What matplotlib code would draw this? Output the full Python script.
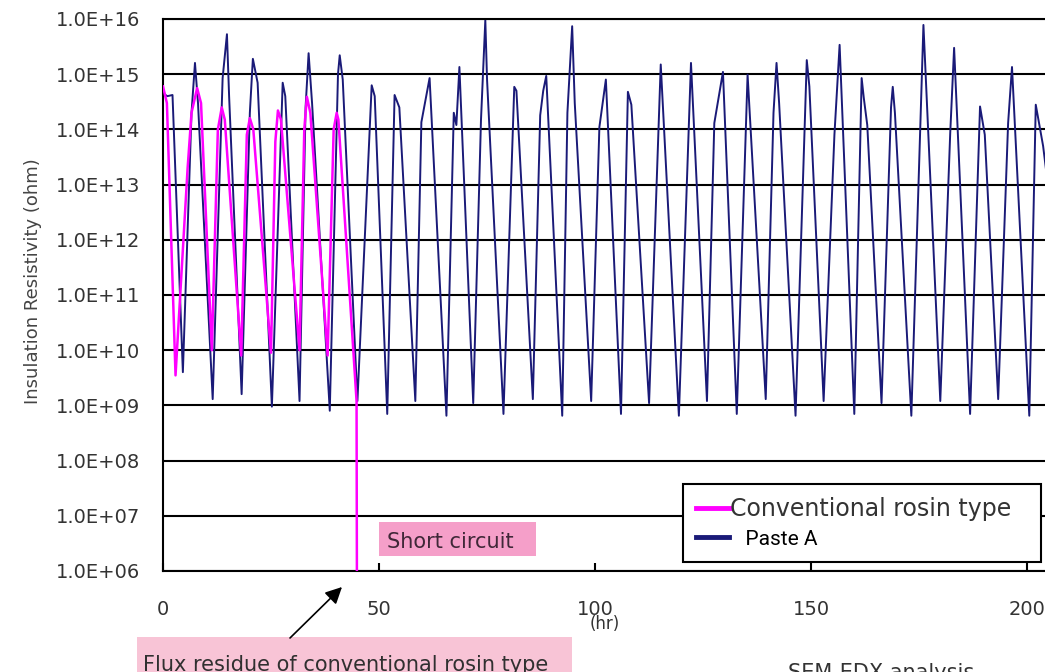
import matplotlib
matplotlib.use("Agg")
import matplotlib.pyplot as plt
from matplotlib.patches import Rectangle, FancyArrowPatch
from matplotlib.ticker import NullLocator

W, H = 1045, 672

# conventional rosin type flux: cycles until the short circuit at ~45 hr
rosin_hr = [0.0, 0.9, 2.9, 5.7, 6.6, 7.9, 8.8, 11.3, 12.7, 13.6, 14.3,
            18.1, 19.4, 20.1, 20.9, 25.0, 26.0, 26.6, 27.3, 31.6, 32.7,
            33.3, 34.1, 38.1, 39.5, 40.2, 40.6, 44.8, 44.9]
rosin_ohm = [6e14, 3e14, 3.5e9, 2e13, 2e14, 5.6e14, 3e14, 1e10, 1e14, 2.5e14, 1.5e14,
             8e9, 8e13, 1.6e14, 1e14, 9e9, 6e13, 2.2e14, 1.5e14, 1e10, 1e14,
             3.9e14, 2e14, 8e9, 1e14, 2e14, 1.5e14, 1.2e9, 1e5]

# Paste A: keeps cycling over the whole test
paste_hr = [0.0, 1.0, 2.2, 4.6,
            6.6, 7.4, 8.1, 11.5,
            13.8, 14.8, 15.3, 18.2,
            20.1, 20.8, 21.9, 25.2,
            27.7, 28.3, 31.6,
            33.0, 33.7, 34.5, 38.6,
            40.5, 40.9, 41.6, 45.0,
            48.3, 49.0, 51.9,
            53.6, 54.7, 58.4,
            59.8, 61.7, 65.6,
            67.3, 67.9, 68.6, 71.8,
            73.6, 74.6, 75.0, 78.8,
            81.3, 81.8, 85.6,
            87.3, 88.0, 88.7, 92.4,
            93.6, 94.7, 95.3, 99.1,
            101.0, 102.5, 106.0,
            107.6, 108.4, 112.5,
            115.2, 119.4,
            122.2, 125.9,
            127.6, 129.6, 132.8,
            135.3, 139.5,
            141.3, 142.0, 142.6, 146.4,
            149.0, 149.6, 152.9,
            155.4, 156.6, 160.0,
            161.7, 162.2, 163.0, 166.3,
            168.5, 168.9, 169.4, 173.2,
            175.3, 176.0, 179.9,
            182.2, 183.1, 186.8,
            189.1, 190.2, 193.3,
            195.6, 196.5, 200.5,
            202.0, 203.7, 204.8]
paste_ohm = [4.5e14, 4e14, 4.2e14, 4e9,
             2e14, 1.6e15, 3e14, 1.3e9,
             8.5e14, 5.3e15, 4e14, 1.6e9,
             2e14, 1.9e15, 7e14, 9.5e8,
             7e14, 4e14, 1.2e9,
             2.5e14, 2.4e15, 3e14, 8e8,
             1e15, 2.2e15, 8e14, 1.2e9,
             6.3e14, 4e14, 7e8,
             4.2e14, 2.5e14, 1.2e9,
             1.35e14, 8.5e14, 6.5e8,
             2e14, 1.2e14, 1.35e15, 1.1e9,
             1.5e14, 9.5e15, 8e14, 7e8,
             5.9e14, 5e14, 1.3e9,
             1.8e14, 5e14, 9.3e14, 6.5e8,
             2e14, 7.4e15, 3e14, 1.2e9,
             1.1e14, 8e14, 7e8,
             4.8e14, 2.8e14, 1.1e9,
             1.5e15, 6.5e8,
             1.6e15, 1.2e9,
             1.3e14, 1.1e15, 7e8,
             9.8e14, 1.3e9,
             2e14, 1.6e15, 3e14, 6.5e8,
             1.8e15, 6e14, 1.2e9,
             8e13, 3.4e15, 7e8,
             8.5e14, 3.7e14, 1.2e14, 1.1e9,
             2.5e14, 5.9e14, 2e14, 6.5e8,
             1.3e14, 7.8e15, 1.2e9,
             8.5e13, 3e15, 7e8,
             2.6e14, 8e13, 1.3e9,
             1.3e14, 1.35e15, 6.5e8,
             2.8e14, 5e13, 1e13]

decades = [1e6, 1e7, 1e8, 1e9, 1e10, 1e11, 1e12, 1e13, 1e14, 1e15, 1e16]
decade_labels = ["1.0E+06", "1.0E+07", "1.0E+08", "1.0E+09", "1.0E+10", "1.0E+11",
                 "1.0E+12", "1.0E+13", "1.0E+14", "1.0E+15", "1.0E+16"]
hour_ticks = [0, 50, 100, 150, 200]

plt.rcParams["font.family"] = ["DejaVu Sans"]


def fig_xy(px, py):
    """Image pixel position (top-left origin) -> figure fraction."""
    return px / W, 1 - py / H


fig = plt.figure(figsize=(W / 100, H / 100), dpi=100)
ax = fig.add_axes([163 / W, 1 - 571 / H, 884 / W, 552 / H])
ax.set_yscale("log")

paste_line, = ax.plot(paste_hr, paste_ohm, color="#1a1a78", lw=1.4, zorder=2)
rosin_line, = ax.plot(rosin_hr, rosin_ohm, color="#ff00ff", lw=1.8, zorder=3)

ax.set_xlim(0, 204.6)
ax.set_ylim(1e6, 1e16)
ax.set_yticks(decades)
ax.set_yticklabels(decade_labels)
ax.yaxis.set_minor_locator(NullLocator())
ax.set_xticks(hour_ticks)
ax.tick_params(axis="y", length=0, pad=16.5, labelsize=14, labelcolor="#333333")
ax.tick_params(axis="x", direction="in", length=6, width=1.5, pad=21,
               labelsize=14, labelcolor="#333333")
ax.grid(axis="y", color="black", lw=1.5)
ax.set_axisbelow(True)
for sp in ax.spines.values():
    sp.set_linewidth(1.5)

ax.set_ylabel("Insulation Resistivity (ohm)", fontsize=13, color="#444444")
ax.yaxis.set_label_coords((42 - 163) / 884, 0.525)
ax.set_xlabel("(hr)", fontsize=12, color="#333333", va="top")
ax.xaxis.set_label_coords(0.5, (571 - 615) / 552)

leg = ax.legend([rosin_line, paste_line], ["Conventional rosin type", "   Paste A"],
                loc="lower left", bbox_to_anchor=(0.588, 0.0163, 0.405, 0.163),
                mode="expand", borderaxespad=0, fancybox=False, framealpha=1,
                edgecolor="black", fontsize=17, handlelength=1.4, handletextpad=0.05,
                labelspacing=0.3, borderpad=0.55)
leg.get_frame().set_linewidth(1.5)
leg.set_zorder(5)
for ln in leg.get_lines():
    ln.set_linewidth(3.5)
leg.get_texts()[0].set_color("#333333")
leg.get_texts()[1].set_fontfamily("Roboto")
leg.get_texts()[1].set_fontsize(15)
leg.get_texts()[1].set_color("black")

# "Short circuit" label box
fig.add_artist(Rectangle(fig_xy(379, 556), (536 - 379) / W, (556 - 522) / H,
                         transform=fig.transFigure, fc="#f59fc9", ec="none", zorder=4))
fig.text(*fig_xy(387, 548), "Short circuit", fontsize=15, color="#402838",
         va="baseline", zorder=6)

# flux residue callout below the axes
fig.add_artist(Rectangle(fig_xy(137, 672), (572 - 137) / W, (672 - 637) / H,
                         transform=fig.transFigure, fc="#f8c4d6", ec="none", zorder=4))
fig.text(*fig_xy(143, 671), "Flux residue of conventional rosin type", fontsize=15,
         color="#303030", va="baseline", zorder=6)
fig.add_artist(FancyArrowPatch(fig_xy(290, 638), fig_xy(342, 587),
                               transform=fig.transFigure,
                               arrowstyle="-|>,head_length=0.5,head_width=0.25",
                               mutation_scale=20, color="black", lw=1.2,
                               shrinkA=0, shrinkB=0, zorder=6))

fig.text(*fig_xy(788, 679), "SEM-EDX analysis", fontsize=15, color="#333333",
         va="baseline", zorder=6)

fig.savefig("out.png", dpi=100)
